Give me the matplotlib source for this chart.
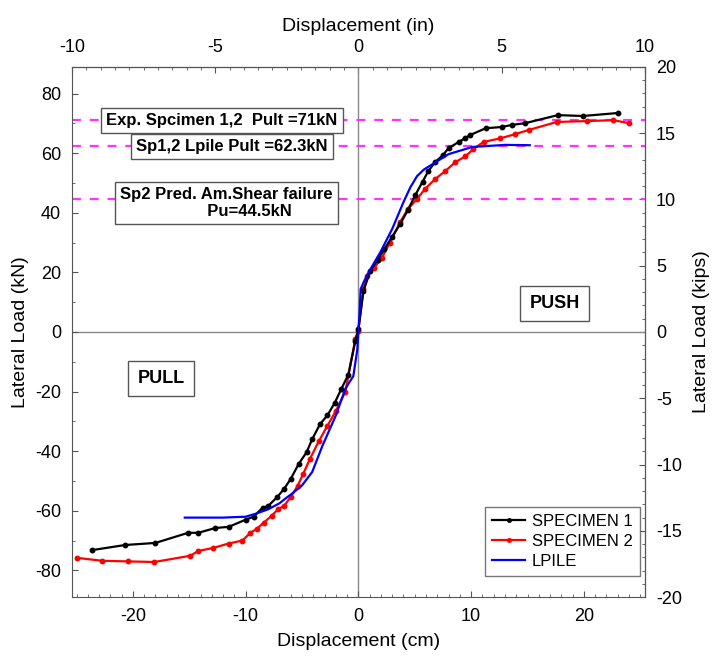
import matplotlib.pyplot as plt
import numpy as np

plt.rcParams['font.family'] = ['Liberation Sans', 'DejaVu Sans']
plt.rcParams['axes.unicode_minus'] = False

# Specimen 1 (cm, kN)
sp1_x = [-23.6, -20.7, -18.0, -15.1, -14.2, -12.7, -11.5, -10.0, -9.3, -8.5, -8.0,
         -7.2, -6.6, -6.0, -5.3, -4.6, -4.1, -3.4, -2.75, -2.1, -1.5, -0.9, -0.27, 0.0,
         0.45, 1.06, 1.7, 2.3, 3.0, 3.7, 4.4, 5.05, 5.7, 6.2, 6.8, 7.5, 8.0, 8.9, 9.5,
         9.9, 11.3, 12.7, 13.6, 14.8, 17.7, 19.9, 23.0]
sp1_y = [-73.2, -71.5, -70.8, -67.4, -67.4, -65.8, -65.4, -63.0, -62.0, -59.0, -58.4,
         -55.4, -52.7, -49.3, -44.3, -40.4, -36.0, -30.9, -28.0, -23.8, -19.0, -14.4, -3.0, 1.0,
         13.8, 20.5, 24.2, 27.8, 32.0, 36.2, 41.0, 46.0, 50.5, 54.0, 57.0, 59.4, 61.7, 63.8, 65.1,
         66.1, 68.4, 68.8, 69.5, 70.1, 72.8, 72.5, 73.5]

# Specimen 2 (cm, kN)
sp2_x = [-25.0, -22.7, -20.4, -18.1, -14.9, -14.2, -12.9, -11.5, -10.3, -9.6, -9.0,
         -8.4, -7.7, -7.1, -6.6, -6.0, -5.4, -4.9, -4.3, -3.5, -2.75, -2.0, -1.15, -0.27, 0.0,
         0.45, 0.8, 1.4, 2.1, 2.8, 3.7, 4.4, 5.2, 5.9, 6.8, 7.7, 8.6, 9.5, 10.2, 11.1,
         12.6, 13.9, 15.1, 17.6, 20.3, 22.6, 24.0]
sp2_y = [-75.8, -76.8, -77.0, -77.2, -75.1, -73.5, -72.5, -71.0, -70.0, -67.5, -66.0,
         -64.0, -61.7, -59.4, -58.4, -55.4, -51.7, -47.7, -42.6, -36.6, -31.5, -26.5, -20.0, -2.3, 0.5,
         14.4, 18.8, 21.5, 25.0, 30.0, 36.9, 41.3, 44.6, 48.0, 51.3, 54.0, 57.0, 59.0, 61.4, 63.8,
         65.0, 66.4, 67.8, 70.5, 70.8, 71.1, 70.1]

# LPILE prediction (cm, kN)
lp_x = [-15.4, -12.0, -10.0, -9.1, -8.0, -7.0, -6.5, -5.8, -5.0, -4.1, -3.2, -2.0,
        -1.15, -0.45, -0.1, 0.0, 0.1, 0.2, 0.5, 0.9, 1.95, 3.0, 4.0, 4.6, 5.2, 5.8,
        6.6, 8.0, 10.1, 13.0, 15.2]
lp_y = [-62.3, -62.3, -62.0, -61.0, -59.5, -57.5, -56.0, -54.0, -51.5, -47.0, -38.3, -28.0,
        -19.0, -14.8, -6.0, 0.0, 6.0, 14.4, 17.0, 20.0, 26.8, 34.6, 43.6, 48.5, 52.3, 54.5,
        56.4, 59.7, 62.1, 62.8, 62.7]

ref_loads = [71.0, 62.3, 44.5]
ref_labels = ['Exp. Spcimen 1,2  Pult =71kN', 'Sp1,2 Lpile Pult =62.3kN',
              'Sp2 Pred. Am.Shear failure\n          Pu=44.5kN']
ref_label_pos = [(-12.1, 71.0), (-11.2, 62.3), (-11.7, 43.3)]

KIP = 4.448
CM = 2.54

fig = plt.figure(figsize=(7.18, 6.63), dpi=100)
ax = fig.add_axes([0.1003, 0.0995, 0.7977, 0.7995])

ax.axhline(0, color='#888888', lw=1.0, zorder=1)
ax.axvline(0, color='#888888', lw=1.0, zorder=1)

for v in ref_loads:
    ax.axhline(v, color='#ff33ff', lw=1.6, ls=(0, (4, 4)), zorder=2)

ax.plot(sp1_x, sp1_y, color='black', marker='o', ms=3.2, lw=1.6, label='SPECIMEN 1', zorder=4)
ax.plot(sp2_x, sp2_y, color='red', marker='o', ms=3.2, lw=1.6, label='SPECIMEN 2', zorder=3)
ax.plot(lp_x, lp_y, color='blue', lw=1.6, label='LPILE', zorder=5)

box = dict(boxstyle='square,pad=0.3', fc='white', ec='#555555', lw=1.0)
for (px, py), txt in zip(ref_label_pos, ref_labels):
    ax.text(px, py, txt, ha='center', va='center', fontsize=12, fontweight='bold',
            bbox=box, zorder=6, linespacing=1.1)

ax.text(-17.5, -15.5, 'PULL', ha='center', va='center', fontsize=13, fontweight='bold',
        bbox=dict(boxstyle='square,pad=0.5', fc='white', ec='#555555', lw=1.0), zorder=6)
ax.text(17.4, 9.7, 'PUSH', ha='center', va='center', fontsize=13, fontweight='bold',
        bbox=dict(boxstyle='square,pad=0.5', fc='white', ec='#555555', lw=1.0), zorder=6)

ax.set_xlim(-25.4, 25.4)
ax.set_ylim(-20 * KIP, 20 * KIP)
ax.set_xticks([-20, -10, 0, 10, 20])
ax.set_yticks([-80, -60, -40, -20, 0, 20, 40, 60, 80])
ax.set_xticks(np.arange(-25, 26, 1), minor=True)
ax.set_yticks(np.arange(-80, 81, 10), minor=True)
ax.tick_params(which='both', direction='in', labelsize=13, color='#555555', pad=8)
ax.tick_params(which='major', length=4)
ax.tick_params(which='minor', length=2)
ax.set_xlabel('Displacement (cm)', fontsize=14, labelpad=6)
ax.set_ylabel('Lateral Load (kN)', fontsize=14, labelpad=4)
for s in ax.spines.values():
    s.set_color('#555555')

top = ax.secondary_xaxis('top', functions=(lambda x: x / CM, lambda x: x * CM))
top.set_xticks([-10, -5, 0, 5, 10])
top.set_xticks(np.arange(-10, 10.1, 0.5), minor=True)
top.tick_params(which='both', direction='in', labelsize=13, color='#555555', pad=8)
top.tick_params(which='major', length=4)
top.tick_params(which='minor', length=2)
top.set_xlabel('Displacement (in)', fontsize=14, labelpad=6)

right = ax.secondary_yaxis('right', functions=(lambda y: y / KIP, lambda y: y * KIP))
right.set_yticks([-20, -15, -10, -5, 0, 5, 10, 15, 20])
right.set_yticks(np.arange(-20, 21, 1), minor=True)
right.tick_params(which='both', direction='in', labelsize=13, color='#555555', pad=8)
right.tick_params(which='major', length=4)
right.tick_params(which='minor', length=2)
right.set_ylabel('Lateral Load (kips)', fontsize=14, labelpad=8)

leg = ax.legend(loc='lower right', bbox_to_anchor=(0.991, 0.04), borderaxespad=0,
                fontsize=12, frameon=True, fancybox=False, edgecolor='#555555',
                handlelength=2.0, handletextpad=0.4, borderpad=0.4,
                labelspacing=0.3, markerscale=0.8)
leg.get_frame().set_linewidth(1.0)

fig.savefig('out.png', dpi=100)
